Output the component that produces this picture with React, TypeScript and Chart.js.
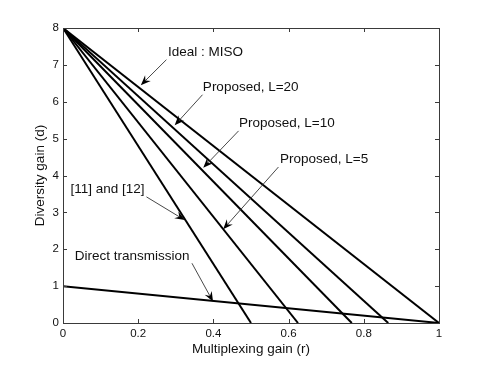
import React, { useEffect, useRef } from "react";
import { Chart, registerables } from "chart.js";

Chart.register(...registerables);

// Series (multiplexing gain r, diversity gain d)
const seriesNames = ["Ideal : MISO", "Proposed, L=20", "Proposed, L=10", "Proposed, L=5", "[11] and [12]", "Direct transmission"];
const idealR = [0, 1];
const idealD = [8, 0];
const l20R = [0, 0.865];
const l20D = [8, 0];
const l10R = [0, 0.768];
const l10D = [8, 0];
const l5R = [0, 0.625];
const l5D = [8, 0];
const refR = [0, 0.5];
const refD = [8, 0];
const directR = [0, 1];
const directD = [1, 0];

// Tick labels
const xTicks = [0, 0.2, 0.4, 0.6, 0.8, 1];
const yTicks = [0, 1, 2, 3, 4, 5, 6, 7, 8];
const xTitle = "Multiplexing gain (r)";
const yTitle = "Diversity gain (d)";

// Annotations (label position and arrow tail/tip in data units)
const annotLabels = ["Ideal : MISO", "Proposed, L=20", "Proposed, L=10", "Proposed, L=5", "[11] and [12]", "Direct transmission"];
const annotTextR = [0.279, 0.372, 0.468, 0.577, 0.02, 0.031];
const annotTextD = [7.34, 6.4, 5.42, 4.44, 3.62, 1.8];
const arrowFromR = [0.275, 0.371, 0.467, 0.573, 0.222, 0.343];
const arrowFromD = [7.14, 6.19, 5.21, 4.23, 3.42, 1.62];
const arrowToR = [0.207, 0.297, 0.373, 0.426, 0.324, 0.399];
const arrowToD = [6.45, 5.36, 4.21, 2.54, 2.79, 0.58];

const FONT = "'Liberation Sans', Arial, Helvetica, sans-serif";

function pts(r: number[], d: number[]) {
  return r.map((x, i) => ({ x, y: d[i] }));
}

const framePlugin = {
  id: "frameAndAnnotations",
  afterDraw(chart: any) {
    const { ctx, chartArea: a, scales } = chart;
    const xs = scales.x;
    const ys = scales.y;
    ctx.save();
    // frame
    ctx.strokeStyle = "#3a3a3a";
    ctx.lineWidth = 1;
    ctx.strokeRect(Math.round(a.left) + 0.5, Math.round(a.top) + 0.5, Math.round(a.right - a.left), Math.round(a.bottom - a.top));
    // inward ticks
    const tl = 4;
    ctx.beginPath();
    xTicks.forEach((v) => {
      const px = Math.round(xs.getPixelForValue(v)) + 0.5;
      ctx.moveTo(px, a.bottom);
      ctx.lineTo(px, a.bottom - tl);
      ctx.moveTo(px, a.top);
      ctx.lineTo(px, a.top + tl);
    });
    yTicks.forEach((v) => {
      const py = Math.round(ys.getPixelForValue(v)) + 0.5;
      ctx.moveTo(a.left, py);
      ctx.lineTo(a.left + tl, py);
      ctx.moveTo(a.right, py);
      ctx.lineTo(a.right - tl, py);
    });
    ctx.stroke();

    // annotations
    ctx.font = `13.5px ${FONT}`;
    ctx.fillStyle = "#111";
    ctx.textAlign = "left";
    ctx.textBaseline = "middle";
    annotLabels.forEach((label, i) => {
      ctx.fillText(label, xs.getPixelForValue(annotTextR[i]), ys.getPixelForValue(annotTextD[i]));
      const x0 = xs.getPixelForValue(arrowFromR[i]);
      const y0 = ys.getPixelForValue(arrowFromD[i]);
      const x1 = xs.getPixelForValue(arrowToR[i]);
      const y1 = ys.getPixelForValue(arrowToD[i]);
      const ang = Math.atan2(y1 - y0, x1 - x0);
      const hl = 10;
      const hw = 4;
      const notch = 3.5;
      ctx.strokeStyle = "#333";
      ctx.lineWidth = 0.9;
      ctx.beginPath();
      ctx.moveTo(x0, y0);
      ctx.lineTo(x1 - Math.cos(ang) * (hl - notch), y1 - Math.sin(ang) * (hl - notch));
      ctx.stroke();
      const cos = Math.cos(ang);
      const sin = Math.sin(ang);
      const bx = x1 - cos * hl;
      const by = y1 - sin * hl;
      ctx.fillStyle = "#000";
      ctx.beginPath();
      ctx.moveTo(x1, y1);
      ctx.lineTo(bx - sin * hw, by + cos * hw);
      ctx.lineTo(x1 - cos * (hl - notch), y1 - sin * (hl - notch));
      ctx.lineTo(bx + sin * hw, by - cos * hw);
      ctx.closePath();
      ctx.fill();
      ctx.fillStyle = "#111";
    });
    ctx.restore();
  },
};

export default function App() {
  const ref = useRef<HTMLCanvasElement | null>(null);
  useEffect(() => {
    if (!ref.current) return;
    const series = [
      pts(idealR, idealD),
      pts(l20R, l20D),
      pts(l10R, l10D),
      pts(l5R, l5D),
      pts(refR, refD),
      pts(directR, directD),
    ];
    const chart = new Chart(ref.current, {
      type: "scatter",
      data: {
        datasets: series.map((data, i) => ({
          label: seriesNames[i],
          data,
          showLine: true,
          borderColor: "#000",
          backgroundColor: "#000",
          borderWidth: 2,
          pointRadius: 0,
          fill: false,
        })),
      },
      options: {
        animation: false,
        responsive: false,
        maintainAspectRatio: false,
        layout: { padding: { left: 0, top: 28, right: 46, bottom: 0 } },
        plugins: { legend: { display: false }, tooltip: { enabled: false } },
        scales: {
          x: {
            type: "linear",
            min: 0,
            max: 1,
            afterBuildTicks: (s: any) => {
              s.ticks = xTicks.map((v) => ({ value: v }));
            },
            afterFit: (s: any) => {
              s.height = 42;
            },
            grid: { display: false, drawTicks: false },
            border: { display: false },
            ticks: {
              padding: 4,
              color: "#111",
              font: { family: FONT, size: 11.5 },
              maxRotation: 0,
              callback: (v: any) => String(Number(Number(v).toFixed(1))),
            },
            title: {
              display: true,
              text: xTitle,
              color: "#111",
              font: { family: FONT, size: 13.5 },
              padding: { top: 0, bottom: 8 },
            },
          },
          y: {
            type: "linear",
            min: 0,
            max: 8,
            afterBuildTicks: (s: any) => {
              s.ticks = yTicks.map((v) => ({ value: v }));
            },
            afterFit: (s: any) => {
              s.width = 63;
            },
            grid: { display: false, drawTicks: false },
            border: { display: false },
            ticks: {
              padding: 4,
              color: "#111",
              font: { family: FONT, size: 11.5 },
              callback: (v: any) => String(v),
            },
            title: {
              display: true,
              text: yTitle,
              color: "#111",
              font: { family: FONT, size: 13.5 },
              padding: { top: 32.5, bottom: 0 },
            },
          },
        },
      },
      plugins: [framePlugin],
    });
    return () => chart.destroy();
  }, []);
  return (
    <div style={{ position: "fixed", left: 0, top: 0, width: 485, height: 365, background: "#fff" }}>
      <canvas ref={ref} width={485} height={365} style={{ display: "block", width: 485, height: 365 }} />
    </div>
  );
}
